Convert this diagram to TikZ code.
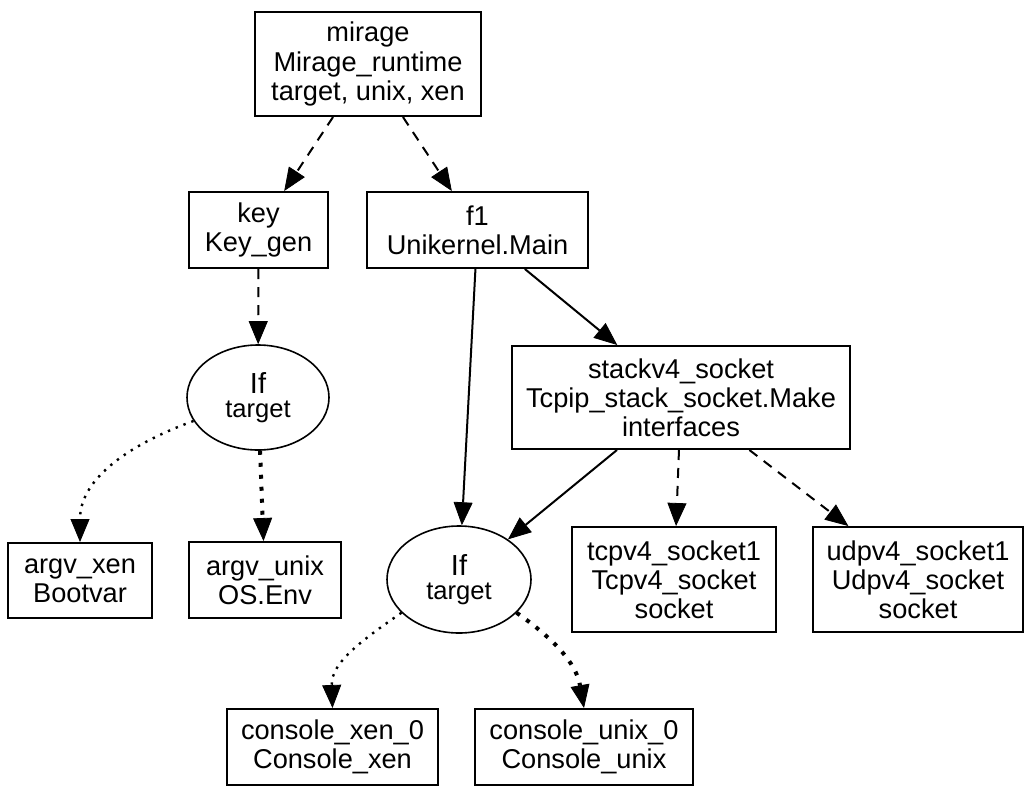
\documentclass[tikz,border=0pt]{standalone}
\usepackage{fontspec}
\setmainfont{Liberation Sans}
\usetikzlibrary{arrows.meta,shapes.geometric}
\newcommand{\lblfont}{\fontsize{13.6pt}{14.6pt}\selectfont}
\begin{document}
\begin{tikzpicture}[x=0.5pt,y=-0.5pt,
  box/.style={draw,line width=1pt,inner sep=0pt,align=center,font=\lblfont},
  cond/.style={draw,ellipse,line width=0.8pt,inner sep=0pt,align=center},
  edge/.style={line width=1pt,-{Triangle[length=11.5pt,width=9.5pt,line width=0.4pt]}},
  dashededge/.style={edge,dash pattern=on 5pt off 4pt},
  dottededge/.style={edge,line width=1.2pt,dash pattern=on 1.2pt off 3pt},
  bolddotted/.style={line width=2pt,dash pattern=on 2pt off 4pt,-{Triangle[length=11.5pt,width=9.5pt,line width=0.4pt]}}
]
\useasboundingbox (0,0) rectangle (1032,803);

\node[box,minimum width=113pt,minimum height=52pt] (mirage) at (368,64) {mirage\\Mirage\_runtime\\target, unix, xen};
\node[box,minimum width=69.5pt,minimum height=38pt] (key) at (258.5,230) {key\\Key\_gen};
\node[box,minimum width=110.5pt,minimum height=38pt] (f1) at (477.5,230) {f1\\Unikernel.Main};
\node[box,minimum width=169pt,minimum height=51.5pt] (stack) at (681,397.5) {stackv4\_socket\\Tcpip\_stack\_socket.Make\\interfaces};
\node[box,minimum width=102pt,minimum height=52.5pt] (tcp) at (674,579.5) {tcpv4\_socket1\\Tcpv4\_socket\\socket};
\node[box,minimum width=105pt,minimum height=52.5pt] (udp) at (918,579.5) {udpv4\_socket1\\Udpv4\_socket\\socket};
\node[box,minimum width=72pt,minimum height=37.5pt] (argvxen) at (80,580.5) {argv\_xen\\Bootvar};
\node[box,minimum width=76pt,minimum height=38pt] (argvunix) at (265,580) {argv\_unix\\OS.Env};
\node[box,minimum width=105.5pt,minimum height=38pt] (consxen) at (332.5,747) {console\_xen\_0\\Console\_xen};
\node[box,minimum width=109pt,minimum height=38pt] (consunix) at (584,747) {console\_unix\_0\\Console\_unix};
\node[cond,minimum width=71pt,minimum height=52.5pt] (ifL) at (258,397.5) {{\fontsize{14.5pt}{15pt}\selectfont If}\\{\fontsize{12.8pt}{15pt}\selectfont target}};
\node[cond,minimum width=72pt,minimum height=53.5pt] (ifM) at (459,579.5) {{\fontsize{14.5pt}{15pt}\selectfont If}\\{\fontsize{12.8pt}{15pt}\selectfont target}};

\draw[dashededge] (mirage) -- (key);
\draw[dashededge] (mirage) -- (f1);
\draw[dashededge] (key) -- (ifL);
\draw[dottededge] (ifL.200) to[out=200,in=90] (argvxen.north);
\draw[bolddotted] (ifL) -- (argvunix);
\draw[edge] (f1) -- (ifM);
\draw[edge] (f1) -- (stack);
\draw[edge] (stack) -- (ifM);
\draw[dashededge] (stack) -- (tcp);
\draw[dashededge] (stack) -- (udp);
\draw[dottededge] (ifM.210) to[out=215,in=92] (consxen.north);
\draw[bolddotted] (ifM.330) to[out=-35,in=100] (consunix.north);
\end{tikzpicture}
\end{document}
